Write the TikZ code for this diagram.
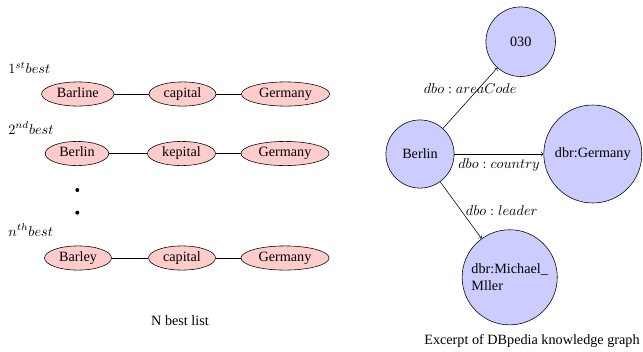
\documentclass[tikz,border=0pt]{standalone}
\usepackage{fontspec}
\setmainfont{Liberation Serif}
\usetikzlibrary{shapes.geometric}
\tikzset{
  word/.style={draw, ellipse, fill=red!20, inner ysep=0pt, minimum height=17pt, text height=6.8pt, text depth=2.2pt},
  entity/.style={draw, circle, fill=blue!20, inner sep=2pt},
  rank/.style={anchor=west, inner sep=0pt}
}
\begin{document}
\begin{tikzpicture}[x=0.7042pt, y=-0.7042pt]
\useasboundingbox (0,0) rectangle (643,351);
\node[rank] (l1) at (8,68) {$1^{st}best$};
\node[word] (b1) at (77.8,94) {Barline};
\node[word] (c1) at (182.5,94) {capital};
\node[word] (g1) at (285.5,94) {Germany};
\draw (b1) -- (c1);
\draw (c1) -- (g1);
\node[rank] (l2) at (8,128) {$2^{nd}best$};
\node[word] (b2) at (77,153.5) {Berlin};
\node[word] (c2) at (181.5,153.5) {kepital};
\node[word] (g2) at (285,153.5) {Germany};
\draw (b2) -- (c2);
\draw (c2) -- (g2);
\fill (77.3,190) circle (2);
\fill (77.3,212.7) circle (2);
\node[rank] (l3) at (8,230) {$n^{th}best$};
\node[word] (b3) at (78,258) {Barley};
\node[word] (c3) at (182,258) {capital};
\node[word] (g3) at (285,258) {Germany};
\draw (b3) -- (c3);
\draw (c3) -- (g3);
\node (nlist) at (180,320.5) {N best list};
\node[entity, minimum size=48pt] (ber) at (420,154) {Berlin};
\node[entity, minimum size=49pt] (code) at (520.7,41.7) {030};
\node[entity, minimum size=69pt] (ger) at (592.8,154) {dbr:Germany};
\node[entity, minimum size=67pt, align=left] (mm) at (509.7,277.3) {dbr:Michael\_\\Mller};
\draw[->] (ber) -- node[midway, above] {$dbo: areaCode$} (code);
\draw[->] (ber) -- node[midway, below] {$dbo: country$} (ger);
\draw[->] (ber) -- node[midway, right] {$dbo: leader$} (mm);
\node (kg) at (532,341) {Excerpt of DBpedia knowledge graph};
\end{tikzpicture}
\end{document}
